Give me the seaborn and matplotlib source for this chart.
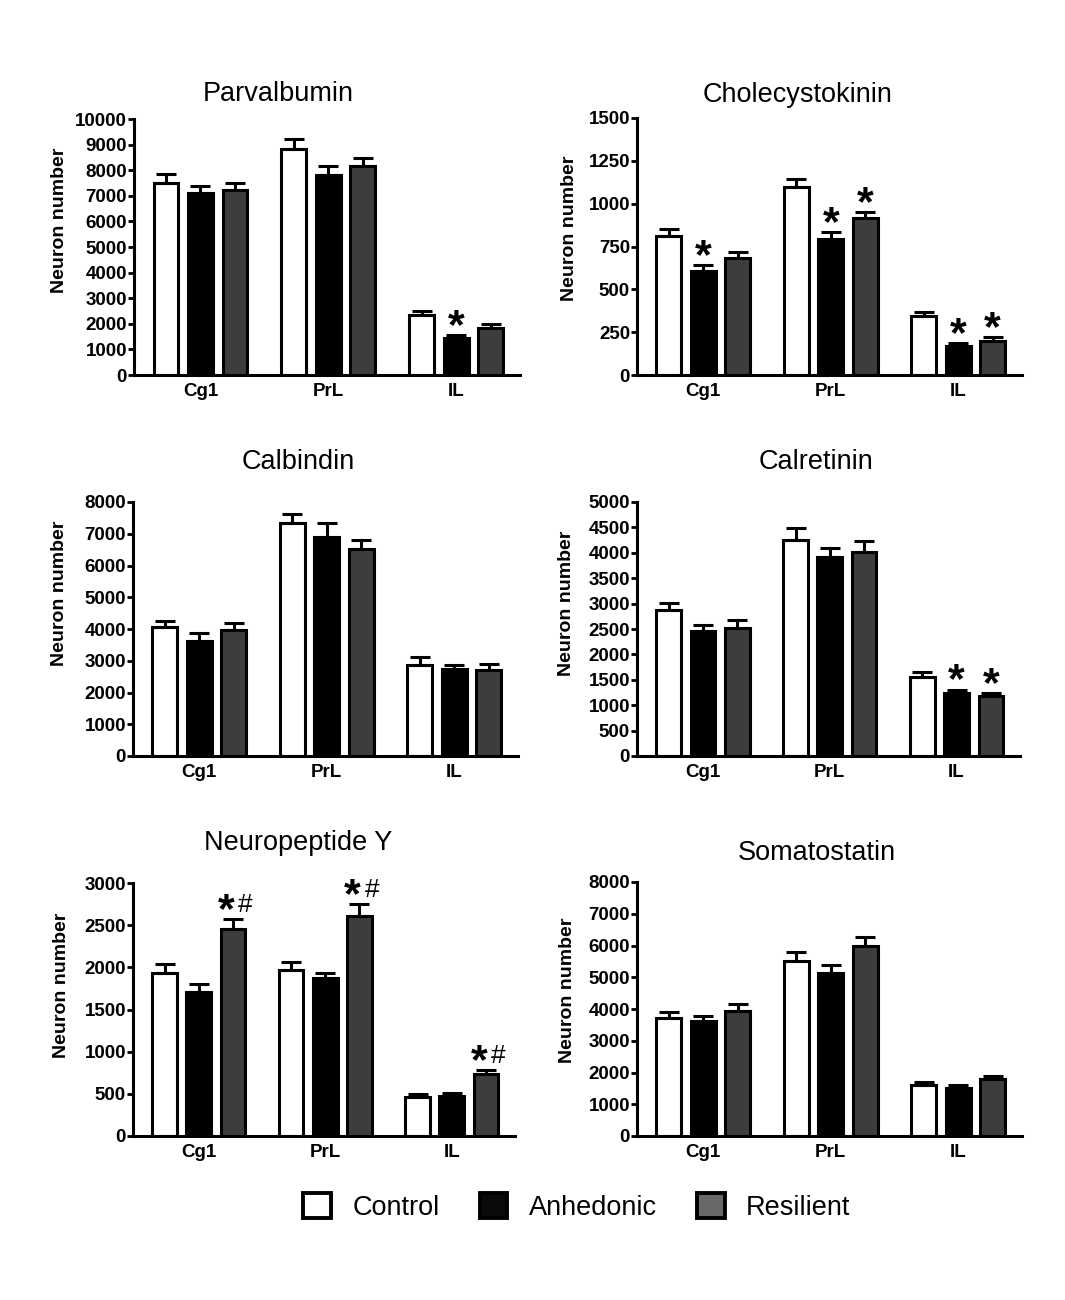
import numpy as np
import pandas as pd
import seaborn as sns
import matplotlib
matplotlib.use("Agg")
import matplotlib.pyplot as plt
from matplotlib.patches import Patch

# --- data (mean and SEM per region x group) ---
regions = ["Cg1", "PrL", "IL"]
groups = ["Control", "Anhedonic", "Resilient"]

parv_mean = [[7500, 7090, 7240], [8820, 7820, 8180], [2330, 1440, 1850]]
parv_sem = [[340, 300, 260], [410, 350, 310], [170, 120, 130]]
parv_marks = [("IL", "Anhedonic", "*")]

cck_mean = [[812, 608, 682], [1097, 793, 914], [345, 170, 201]]
cck_sem = [[41, 33, 35], [47, 41, 35], [21, 15, 19]]
cck_marks = [("Cg1", "Anhedonic", "*"), ("PrL", "Anhedonic", "*"), ("PrL", "Resilient", "*"),
             ("IL", "Anhedonic", "*"), ("IL", "Resilient", "*")]

calb_mean = [[4070, 3620, 3970], [7340, 6890, 6530], [2870, 2730, 2710]]
calb_sem = [[180, 240, 230], [270, 440, 280], [240, 150, 180]]
calb_marks = []

calr_mean = [[2867, 2461, 2513], [4245, 3911, 4022], [1549, 1247, 1181]]
calr_sem = [[138, 111, 171], [243, 190, 210], [98, 59, 53]]
calr_marks = [("IL", "Anhedonic", "*"), ("IL", "Resilient", "*")]

npy_mean = [[1936, 1706, 2454], [1963, 1869, 2613], [467, 475, 740]]
npy_sem = [[103, 91, 119], [99, 59, 134], [32, 32, 40]]
npy_marks = [("Cg1", "Resilient", "*#"), ("PrL", "Resilient", "*#"), ("IL", "Resilient", "*#")]

sst_mean = [[3720, 3610, 3950], [5520, 5130, 5970], [1600, 1520, 1810]]
sst_sem = [[180, 180, 220], [270, 250, 290], [100, 100, 90]]
sst_marks = []

titles = ["Parvalbumin", "Cholecystokinin", "Calbindin", "Calretinin", "Neuropeptide Y", "Somatostatin"]
y_max = [10000, 1500, 8000, 5000, 3000, 8000]
y_step = [1000, 250, 1000, 500, 500, 1000]

# --- layout in pixels of the 1065x1300 canvas ---
W, H = 1065, 1300
axes_px = [(134, 119, 520, 375), (637, 118, 1022, 375),
           (133, 502, 518, 756), (637, 502, 1020, 756),
           (133, 883, 515, 1136), (637, 882, 1022, 1136)]
title_px = [(278, 94), (798, 95), (298, 462), (816, 462), (298, 843), (817, 853)]
ylabel_px = [(68, 220), (578, 228), (68, 593), (575, 603), (70, 985), (576, 990)]

bar_colors = {"Control": "white", "Anhedonic": "black", "Resilient": "#3d3d3d"}
legend_colors = {"Control": "white", "Anhedonic": "#0a0a0a", "Resilient": "#686868"}

sns.set_theme(style="ticks")
plt.rcParams["font.family"] = ["Liberation Sans", "DejaVu Sans"]
plt.rcParams["text.color"] = "black"
plt.rcParams["axes.labelcolor"] = "black"

panels = [
    (parv_mean, parv_sem, parv_marks),
    (cck_mean, cck_sem, cck_marks),
    (calb_mean, calb_sem, calb_marks),
    (calr_mean, calr_sem, calr_marks),
    (npy_mean, npy_sem, npy_marks),
    (sst_mean, sst_sem, sst_marks),
]

fig = plt.figure(figsize=(W / 100, H / 100), dpi=100)

for i, (means, sems, marks) in enumerate(panels):
    l, t, r, b = axes_px[i]
    ax = fig.add_axes([l / W, 1 - b / H, (r - l) / W, (b - t) / H])

    df = pd.DataFrame(
        [(reg, grp, means[ri][gi], sems[ri][gi])
         for ri, reg in enumerate(regions) for gi, grp in enumerate(groups)],
        columns=["region", "group", "mean", "sem"],
    )
    sns.barplot(data=df, x="region", y="mean", hue="group", order=regions,
                hue_order=groups, palette=bar_colors, edgecolor="black",
                linewidth=2.2, width=0.81, gap=0.28, errorbar=None,
                legend=False, ax=ax)

    # one-sided SEM error bars on top of each bar
    tops = {}
    for gi, (grp, cont) in enumerate(zip(groups, ax.containers)):
        for ri, patch in enumerate(cont.patches):
            xc = patch.get_x() + patch.get_width() / 2
            m = means[ri][gi]
            e = sems[ri][gi]
            ax.errorbar(xc, m, yerr=[[0], [e]], fmt="none", ecolor="black",
                        elinewidth=2.2, capsize=7, capthick=2.2, zorder=1)
            tops[(regions[ri], grp)] = (xc, m + e)

    for reg, grp, txt in marks:
        xc, yt = tops[(reg, grp)]
        if txt == "*":
            ax.annotate("*", xy=(xc, yt), xytext=(0, -2), textcoords="offset points",
                        ha="center", va="baseline", fontsize=31, fontweight="bold")
        else:
            ax.annotate("*", xy=(xc, yt), xytext=(-5, -2), textcoords="offset points",
                        ha="center", va="baseline", fontsize=31, fontweight="bold")
            ax.annotate("#", xy=(xc, yt), xytext=(9, 5), textcoords="offset points",
                        ha="center", va="baseline", fontsize=19)

    ax.set_xlim(-0.52, 2.5)
    ax.set_ylim(0, y_max[i])
    ax.set_yticks(np.arange(0, y_max[i] + 1, y_step[i]))
    ax.set_xlabel("")
    ax.set_ylabel("Neuron number", fontsize=14, fontweight="bold")
    lx, ly = ylabel_px[i]
    ax.yaxis.set_label_coords(lx / W, 1 - ly / H, transform=fig.transFigure)

    sns.despine(ax=ax)
    for s in ["left", "bottom"]:
        ax.spines[s].set_linewidth(2.2)
        ax.spines[s].set_color("black")
    ax.tick_params(axis="y", length=4, width=2, colors="black", pad=1,
                   labelsize=13.5)
    ax.tick_params(axis="x", length=0, colors="black", pad=6, labelsize=13.5)
    for lab in ax.get_xticklabels() + ax.get_yticklabels():
        lab.set_fontweight("bold")

    tx, ty = title_px[i]
    fig.text(tx / W, 1 - ty / H, titles[i], ha="center", va="center",
             fontsize=19.5, color="black")

handles = [Patch(facecolor=legend_colors[g], edgecolor="black", linewidth=2.8, label=g)
           for g in groups]
fig.legend(handles=handles, loc="center", bbox_to_anchor=(577 / W, 1 - 1207 / H),
           ncol=3, frameon=False, fontsize=19.5, handlelength=1.0, handleheight=1.0,
           handletextpad=0.8, columnspacing=1.5, labelcolor="black")

fig.savefig("out.png", dpi=100, facecolor="white")
